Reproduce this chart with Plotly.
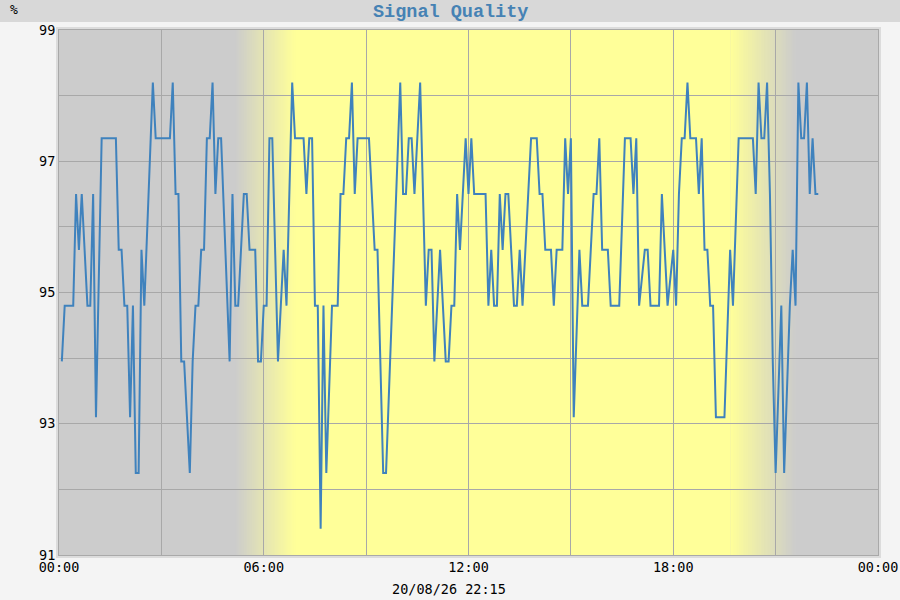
import pandas as pd
import plotly.graph_objects as go

day = '2020-08-26'
stamp = '20/08/26 22:15'

times = [
    '00:05', '00:10', '00:25', '00:30', '00:35', '00:40', '00:50', '00:55', '01:00', '01:05',
    '01:15', '01:40', '01:45', '01:50', '01:55', '02:00', '02:05', '02:10', '02:15', '02:20',
    '02:25', '02:30', '02:45', '02:50', '03:15', '03:20', '03:25', '03:30', '03:35', '03:40',
    '03:50', '03:55', '04:00', '04:05', '04:10', '04:15', '04:20', '04:25', '04:30', '04:35',
    '04:40', '04:45', '05:00', '05:05', '05:10', '05:15', '05:25', '05:30', '05:35', '05:45',
    '05:50', '05:55', '06:00', '06:05', '06:10', '06:15', '06:25', '06:35', '06:40', '06:50',
    '06:55', '07:10', '07:15', '07:20', '07:25', '07:30', '07:35', '07:40', '07:45', '07:50',
    '08:00', '08:10', '08:15', '08:20', '08:25', '08:30', '08:35', '08:40', '08:45', '09:05',
    '09:15', '09:20', '09:30', '09:35', '10:00', '10:05', '10:10', '10:15', '10:20', '10:25',
    '10:35', '10:45', '10:50', '10:55', '11:00', '11:10', '11:20', '11:25', '11:30', '11:35',
    '11:40', '11:45', '11:55', '12:00', '12:05', '12:10', '12:30', '12:35', '12:40', '12:45',
    '12:50', '12:55', '13:00', '13:05', '13:10', '13:20', '13:25', '13:30', '13:35', '13:50',
    '14:00', '14:05', '14:10', '14:15', '14:25', '14:30', '14:35', '14:45', '14:50', '14:55',
    '15:00', '15:05', '15:15', '15:20', '15:30', '15:40', '15:45', '15:50', '15:55', '16:05',
    '16:10', '16:25', '16:35', '16:45', '16:50', '16:55', '17:00', '17:10', '17:15', '17:20',
    '17:35', '17:40', '17:50', '18:00', '18:05', '18:10', '18:15', '18:20', '18:25', '18:30',
    '18:40', '18:45', '18:50', '18:55', '19:00', '19:05', '19:10', '19:15', '19:30', '19:40',
    '19:45', '19:55', '20:20', '20:25', '20:30', '20:35', '20:40', '20:45', '20:50', '20:55',
    '21:00', '21:10', '21:15', '21:25', '21:30', '21:35', '21:40', '21:45', '21:50', '21:55',
    '22:00', '22:05', '22:10', '22:15',
]

quality = [
    93.95, 94.8, 94.8, 96.5, 95.65, 96.5, 94.8, 94.8, 96.5, 93.1,
    97.35, 97.35, 95.65, 95.65, 94.8, 94.8, 93.1, 94.8, 92.25, 92.25,
    95.65, 94.8, 98.2, 97.35, 97.35, 98.2, 96.5, 96.5, 93.95, 93.95,
    92.25, 93.95, 94.8, 94.8, 95.65, 95.65, 97.35, 97.35, 98.2, 96.5,
    97.35, 97.35, 93.95, 96.5, 94.8, 94.8, 96.5, 96.5, 95.65, 95.65,
    93.95, 93.95, 94.8, 94.8, 97.35, 97.35, 93.95, 95.65, 94.8, 98.2,
    97.35, 97.35, 96.5, 97.35, 97.35, 94.8, 94.8, 91.4, 94.8, 92.25,
    94.8, 94.8, 96.5, 96.5, 97.35, 97.35, 98.2, 96.5, 97.35, 97.35,
    95.65, 95.65, 92.25, 92.25, 98.2, 96.5, 96.5, 97.35, 97.35, 96.5,
    98.2, 94.8, 95.65, 95.65, 93.95, 95.65, 93.95, 93.95, 94.8, 94.8,
    96.5, 95.65, 97.35, 96.5, 97.35, 96.5, 96.5, 94.8, 95.65, 94.8,
    94.8, 96.5, 95.65, 96.5, 96.5, 94.8, 94.8, 95.65, 94.8, 97.35,
    97.35, 96.5, 96.5, 95.65, 95.65, 94.8, 95.65, 95.65, 97.35, 96.5,
    97.35, 93.1, 95.65, 94.8, 94.8, 96.5, 96.5, 97.35, 95.65, 95.65,
    94.8, 94.8, 97.35, 97.35, 96.5, 97.35, 94.8, 95.65, 95.65, 94.8,
    94.8, 96.5, 94.8, 95.65, 94.8, 96.5, 97.35, 97.35, 98.2, 97.35,
    97.35, 96.5, 97.35, 95.65, 95.65, 94.8, 94.8, 93.1, 93.1, 95.65,
    94.8, 97.35, 97.35, 96.5, 98.2, 97.35, 97.35, 98.2, 96.5, 93.95,
    92.25, 94.8, 92.25, 94.8, 95.65, 94.8, 98.2, 97.35, 97.35, 98.2,
    96.5, 97.35, 96.5, 96.5,
]

# sunrise / sunset fades of the background
dawn = ('05:10', '06:55')
dusk = ('19:40', '21:35')
night_rgb = (204, 204, 204)
day_rgb = (255, 255, 153)

start = pd.Timestamp(day)
end = start + pd.Timedelta(days=1)
x = [pd.Timestamp(f'{day} {t}') for t in times]


def mix(a, b, f):
    return 'rgb({},{},{})'.format(*[round(a[i] + (b[i] - a[i]) * f) for i in range(3)])


def ts(t):
    return pd.Timestamp(f'{day} {t}')


def band(x0, x1, color):
    return dict(type='rect', xref='x', yref='paper', x0=x0, x1=x1, y0=0, y1=1,
                fillcolor=color, line_width=0, layer='below')


shapes = [band(ts(dawn[1]), ts(dusk[0]), mix(day_rgb, day_rgb, 0))]


def ramp(t0, t1, c0, c1, steps=36):
    t0, t1 = ts(t0), ts(t1)
    step = (t1 - t0) / steps
    for i in range(steps):
        shapes.append(band(t0 + i * step, t0 + (i + 1.6) * step if i < steps - 1 else t1,
                           mix(c0, c1, (i + 0.5) / steps)))


ramp(dawn[0], dawn[1], night_rgb, day_rgb)
ramp(dusk[0], dusk[1], day_rgb, night_rgb)

# title strip and outer frame
W, H = 819, 525
shapes.append(dict(type='rect', xref='paper', yref='paper',
                   x0=-70 / W, x1=1 + 30 / W, y0=1 + 8 / H, y1=1 + 40 / H,
                   fillcolor='#d8d8d8', line_width=0, layer='below'))
shapes.append(dict(type='rect', xref='paper', yref='paper',
                   x0=-2 / W, x1=1 + 2 / W, y0=-2 / H, y1=1 + 2 / H,
                   fillcolor='rgba(0,0,0,0)', line=dict(color='#dcdcdc', width=2),
                   layer='above'))

fig = go.Figure()
fig.add_trace(go.Scatter(x=x, y=quality, mode='lines',
                         line=dict(color='#3f82bd', width=2), hoverinfo='skip'))

mono = 'DejaVu Sans Mono'
fig.update_layout(
    width=900, height=600,
    margin=dict(l=59, r=22, t=30, b=45),
    paper_bgcolor='#f4f4f4',
    plot_bgcolor='rgb(204,204,204)',
    showlegend=False,
    shapes=shapes,
    annotations=[
        dict(text='<b>Signal Quality</b>', xref='paper', yref='paper',
             x=(450 - 59) / W, y=1 + 18 / H, showarrow=False,
             xanchor='center', yanchor='middle',
             font=dict(family='Liberation Mono', size=18.5, color='#4682b4')),
        dict(text='%', xref='paper', yref='paper',
             x=(14 - 59) / W, y=1 + 20 / H, showarrow=False,
             xanchor='center', yanchor='middle',
             font=dict(family=mono, size=13, color='#000000')),
        dict(text=stamp, xref='paper', yref='paper',
             x=(449 - 59) / W, y=-34 / H, showarrow=False,
             xanchor='center', yanchor='middle',
             font=dict(family=mono, size=13.5, color='#000000')),
    ],
)

grid = '#a8a8a8'
fig.update_xaxes(
    type='date', range=[start, end], automargin=False,
    tick0=start, dtick=6 * 3600 * 1000, tickformat='%H:%M',
    showgrid=True, gridcolor=grid, gridwidth=1,
    minor=dict(dtick=3 * 3600 * 1000, showgrid=True, gridcolor=grid, gridwidth=1),
    showline=True, mirror=True, linecolor='#a9a9a9', linewidth=1,
    ticks='', zeroline=False,
    tickfont=dict(family=mono, size=13.5, color='#000000'),
)
fig.update_yaxes(
    range=[91, 99], tick0=91, dtick=2, automargin=False,
    showgrid=True, gridcolor=grid, gridwidth=1,
    minor=dict(dtick=1, showgrid=True, gridcolor=grid, gridwidth=1),
    showline=True, mirror=True, linecolor='#a9a9a9', linewidth=1,
    ticks='', zeroline=False,
    tickfont=dict(family=mono, size=13.5, color='#000000'),
)

# the page's default body margin would push the 900x600 figure off the window
fig.write_html('out.html', config={'displayModeBar': False},
               post_script="document.body.style.margin='0';")
